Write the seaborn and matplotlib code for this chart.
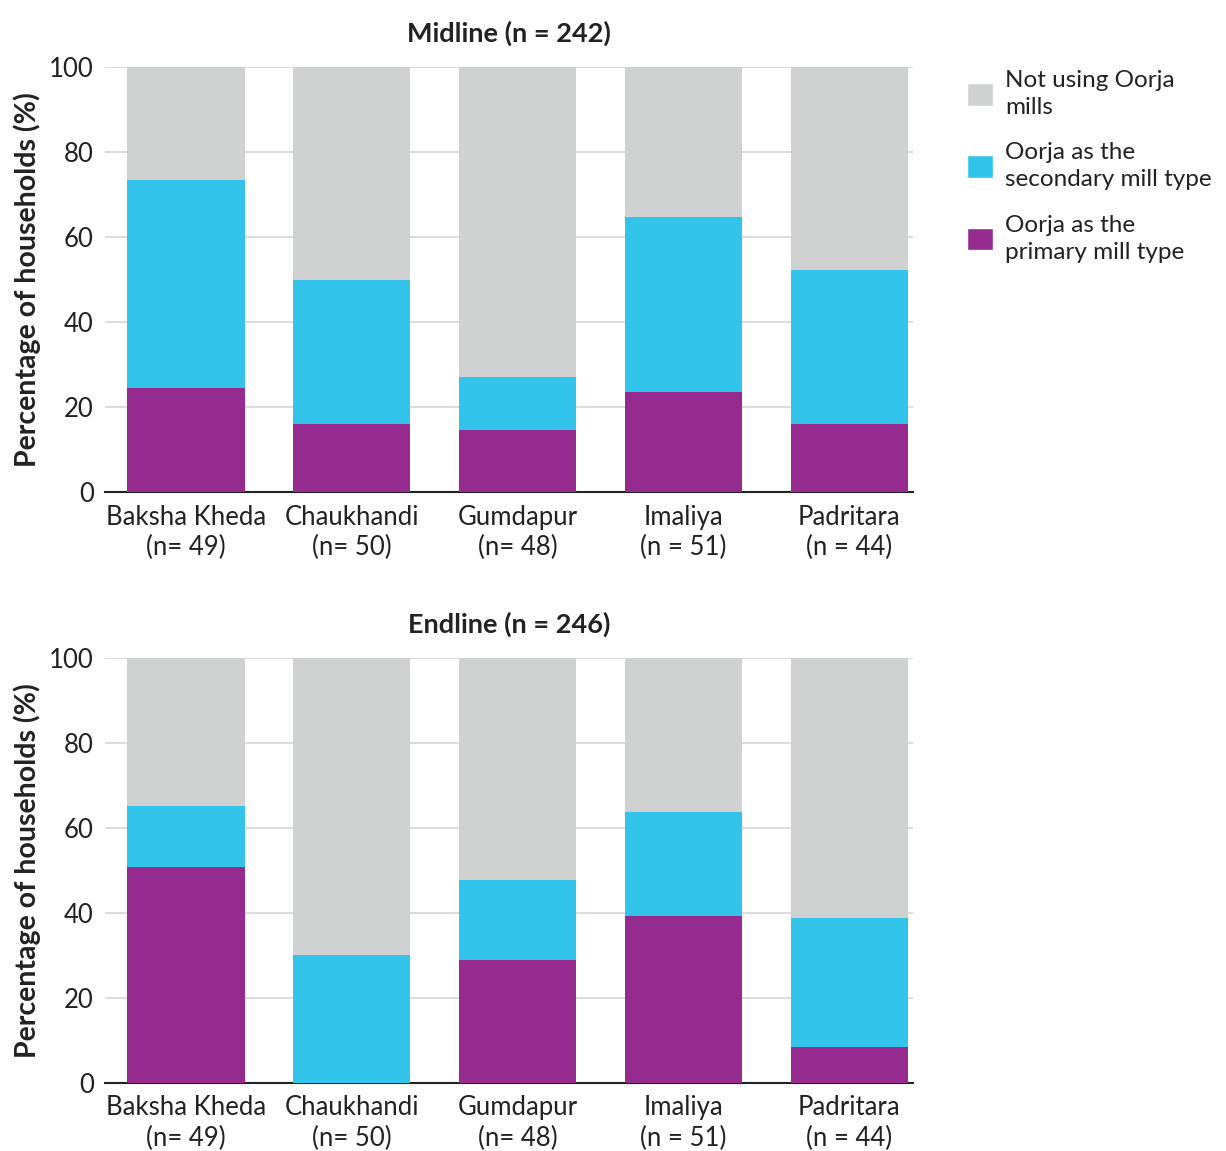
import matplotlib
matplotlib.use("Agg")
import matplotlib.pyplot as plt
import seaborn as sns
import pandas as pd
from matplotlib.patches import Patch

villages = ["Baksha Kheda\n(n= 49)", "Chaukhandi\n(n= 50)", "Gumdapur\n(n= 48)",
            "Imaliya\n(n = 51)", "Padritara\n(n = 44)"]

mid_primary = [24.5, 16.0, 14.6, 23.5, 16.0]
mid_secondary = [49.0, 34.0, 12.5, 41.2, 36.2]
end_primary = [50.8, 0.0, 28.9, 39.3, 8.5]
end_secondary = [14.4, 30.0, 18.9, 24.5, 30.3]

titles = ["Midline (n = 242)", "Endline (n = 246)"]
legend_labels = ["Not using Oorja\nmills", "Oorja as the\nsecondary mill type",
                 "Oorja as the\nprimary mill type"]

C_GRAY = "#D0D2D1"
C_CYAN = "#33C4EC"
C_PURP = "#962B8F"
TXT = "#222222"

sns.set_theme(style="white")
plt.rcParams["font.family"] = ["Lato", "DejaVu Sans"]

fig = plt.figure(figsize=(12.26, 11.51), dpi=100)
ax1 = fig.add_axes([0.0856, 0.5725, 0.6594, 0.3693])
ax2 = fig.add_axes([0.0856, 0.0591, 0.6594, 0.3692])

for ax, prim, sec, title in [(ax1, mid_primary, mid_secondary, titles[0]),
                             (ax2, end_primary, end_secondary, titles[1])]:
    df = pd.DataFrame({"village": villages, "primary": prim, "secondary": sec})
    df["cum2"] = df["primary"] + df["secondary"]
    df["total"] = 100.0
    sns.barplot(data=df, x="village", y="total", color=C_GRAY, width=0.706,
                saturation=1, ax=ax, zorder=2)
    sns.barplot(data=df, x="village", y="cum2", color=C_CYAN, width=0.706,
                saturation=1, ax=ax, zorder=3)
    sns.barplot(data=df, x="village", y="primary", color=C_PURP, width=0.706,
                saturation=1, ax=ax, zorder=4)
    for p in ax.patches:
        p.set_linewidth(0)
    ax.set_ylim(0, 100)
    ax.set_xlim(-0.489, 4.386)
    ax.set_yticks([0, 20, 40, 60, 80, 100])
    ax.yaxis.grid(True, color="#DDDDDD", linewidth=1.5, zorder=0)
    ax.set_axisbelow(True)
    ax.set_xlabel("")
    ax.set_ylabel("Percentage of households (%)", fontsize=20.5, fontweight="bold",
                  color=TXT, labelpad=6)
    ax.set_title(title, fontsize=19.5, fontweight="bold", color=TXT, pad=18)
    for s in ["left", "right", "top"]:
        ax.spines[s].set_visible(False)
    ax.spines["bottom"].set_color(TXT)
    ax.spines["bottom"].set_linewidth(1.5)
    ax.tick_params(axis="both", length=0, labelsize=18.5, colors=TXT)
    ax.tick_params(axis="y", pad=8)
    ax.tick_params(axis="x", pad=9)
    for lab in ax.get_xticklabels():
        lab.set_linespacing(1.25)

handles = [Patch(facecolor=C_GRAY), Patch(facecolor=C_CYAN), Patch(facecolor=C_PURP)]
leg = fig.legend(handles, legend_labels, loc="upper left", bbox_to_anchor=(0.771, 0.958),
                 frameon=False, fontsize=17.5, handlelength=1.05, handleheight=1.05,
                 labelspacing=1.0, handletextpad=0.5, labelcolor=TXT)
for t in leg.get_texts():
    t.set_linespacing(1.35)

fig.savefig("out.png", dpi=100)
